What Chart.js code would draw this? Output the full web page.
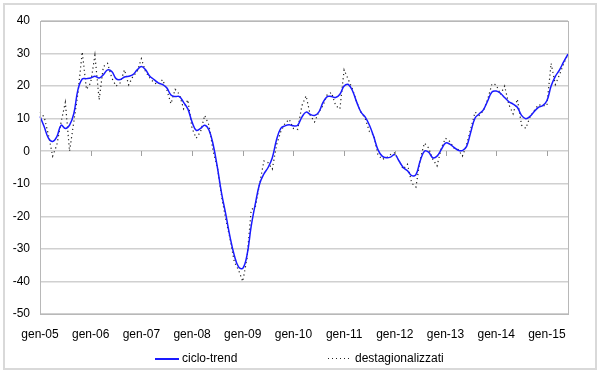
<!DOCTYPE html>
<html>
<head>
<meta charset="utf-8">
<script src="https://cdn.jsdelivr.net/npm/chart.js@4.4.0/dist/chart.umd.min.js"></script>
<style>
body { margin: 0; background: #fff; font-family: "Liberation Sans", Arial, sans-serif; }
#wrap { position: relative; width: 600px; height: 372px; }
#frame { position: absolute; left: 3px; top: 3px; width: 590px; height: 363px; border: 2px solid #d9d9d9; }
#chart { position: absolute; left: 0; top: 0; }
.leg { position: absolute; top: 351px; font-size: 12px; color: #000; line-height: 14px; white-space: nowrap; }
.leg span.sample { display: inline-block; width: 24px; vertical-align: middle; margin-right: 3px; }
</style>
</head>
<body>
<div id="wrap">
  <div id="frame"></div>
  <canvas id="chart" width="600" height="372"></canvas>
  <div class="leg" id="leg0" style="left:155px"></div>
  <div class="leg" id="leg1" style="left:328px"></div>
</div>
<script>
const months = ["gen", "feb", "mar", "apr", "mag", "giu", "lug", "ago", "set", "ott", "nov", "dic"];
const years = ["05", "06", "07", "08", "09", "10", "11", "12", "13", "14", "15"];
const seriesNames = ["ciclo-trend", "destagionalizzati"];
const yTicks = [-50, -40, -30, -20, -10, 0, 10, 20, 30, 40];

// ciclo-trend, gen-05 .. giu-15
const trend = [10.7, 7.5, 4, 3, 4.5, 8, 7, 8, 11.5, 19,
    22.2, 22.3, 22.5, 23, 22.5, 23.5, 25, 24.5, 22.3, 22,
    22.8, 23, 23.5, 25, 26, 25, 23, 22, 21, 20.5,
    19.5, 17.3, 16.8, 16.8, 15, 13, 9, 6.4, 7, 8,
    6.5, 2, -5, -13, -19.5, -26.4, -32, -35.5, -36, -32,
    -23, -16, -10, -7, -5, -2, 3.5, 7, 7.8, 8.1,
    7.8, 8, 10.5, 12, 11.3, 11, 12, 15, 16.8, 16.8,
    16.5, 17.5, 20, 20.5, 18.5, 15, 12, 10.5, 8, 4.5,
    0.5, -1.5, -2, -1.8, -1, -3, -5, -6, -7.5, -7.2,
    -3, 0, -0.3, -2, -1.5, 0.5, 2.5, 2.2, 1.2, 0.3,
    0.2, 1.5, 6, 10.2, 11.5, 12.8, 15.5, 18.2, 18.5, 17.8,
    16.5, 15.2, 14.5, 13.5, 11, 10, 10.7, 12.2, 13.5, 14,
    15.5, 20, 23, 25, 27.5, 29.8];

// destagionalizzati
const destag = [12, 10.5, 5, -1.5, 2, 9, 15, 0, 9, 18,
    30.5, 19, 21, 29.5, 15.8, 26, 27, 22.5, 20, 21,
    25, 20.4, 23, 24.4, 28.4, 24.4, 22.5, 21, 20.5, 22,
    19, 14.6, 19, 17.5, 13, 15.8, 7, 4, 6, 11,
    8, 0, -5, -14, -21, -27, -34, -36.5, -40, -33,
    -18, -17, -10, -3, -3.5, -5.5, 2, 6, 8.5, 9.8,
    7, 6.7, 14, 17, 11, 9, 12, 14, 17.4, 18,
    14, 13, 25, 22, 19, 15, 12, 10, 6, 5,
    -1, -2.5, -2, -1, -0.5, -3, -5.5, -4, -9.8, -11,
    -2.5, 2.5, 1, -2.5, -4.5, 1, 4, 3, 1, 0.5,
    -1.5, 2, 7, 12, 11, 12.5, 16, 20.7, 20.4, 17.4,
    20, 14.3, 11.5, 16, 8, 7, 10.5, 12.5, 14.3, 14,
    14, 27, 20.5, 23.5, 27, 29.8];

let labels = [];
for (const y of years) {
    for (const m of months) labels.push(m + "-" + y);
}
labels = labels.slice(0, trend.length);

const font = { family: "'Liberation Sans', Arial, sans-serif", size: 12 };

// frame of the plot area + small ticks on the zero line
const plotFrame = {
    id: "plotFrame",
    afterDraw(chart) {
        const ctx = chart.ctx;
        const a = chart.chartArea;
        const xs = chart.scales.x, ys = chart.scales.y;
        ctx.save();
        ctx.strokeStyle = "#b8b8b8";
        ctx.lineWidth = 1;
        ctx.strokeRect(Math.round(a.left) + 0.5, Math.round(a.top) + 0.5, Math.round(a.right - a.left), Math.round(a.bottom - a.top));
        const y0 = Math.round(ys.getPixelForValue(0));
        ctx.strokeStyle = "#a0a0a0";
        ctx.beginPath();
        for (let i = 12; i < labels.length; i += 12) {
            const x = Math.round(xs.getPixelForValue(i)) + 0.5;
            ctx.moveTo(x, y0);
            ctx.lineTo(x, y0 + 5);
        }
        ctx.stroke();
        ctx.restore();
    }
};

const chart = new Chart(document.getElementById("chart"), {
    type: "line",
    data: {
        labels: labels,
        datasets: [{
            label: seriesNames[0],
            data: trend,
            borderColor: "#1a1aff",
            borderWidth: 1.5,
            pointRadius: 0,
            tension: 0.4
        }, {
            label: seriesNames[1],
            data: destag,
            borderColor: "#222",
            borderWidth: 1.2,
            borderDash: [1.2, 3],
            pointRadius: 0,
            tension: 0
        }]
    },
    options: {
        responsive: false,
        animation: false,
        layout: { padding: { left: 0, top: 21, right: 32, bottom: 28 } },
        plugins: { legend: { display: false }, tooltip: { enabled: false } },
        scales: {
            x: {
                offset: false,
                grid: { display: false },
                border: { display: false },
                afterFit: s => { s.height = 30; },
                ticks: {
                    autoSkip: false,
                    maxRotation: 0,
                    padding: 5,
                    color: "#000",
                    font: font,
                    callback: function (v, i) { return i % 12 === 0 ? this.getLabelForValue(v) : ""; }
                }
            },
            y: {
                min: yTicks[0],
                max: yTicks[yTicks.length - 1],
                afterFit: s => { s.width = 40; },
                afterBuildTicks: s => { s.ticks = yTicks.map(v => ({ value: v })); },
                grid: { color: "#d0d0d0", lineWidth: 1.6, drawTicks: false },
                border: { color: "#b8b8b8" },
                ticks: { color: "#000", font: font, padding: 10 }
            }
        }
    },
    plugins: [plotFrame]
});

// legend
chart.data.datasets.forEach((ds, i) => {
    const el = document.getElementById("leg" + i);
    const s = document.createElement("span");
    s.className = "sample";
    if (ds.borderDash) {
        s.style.height = "1px";
        s.style.background = "repeating-linear-gradient(to right, " + ds.borderColor + " 0 1px, transparent 1px 4px)";
    } else {
        s.style.height = "2px";
        s.style.background = ds.borderColor;
    }
    el.appendChild(s);
    el.appendChild(document.createTextNode(ds.label));
});
</script>
</body>
</html>
